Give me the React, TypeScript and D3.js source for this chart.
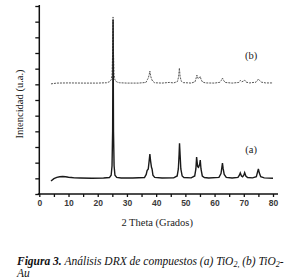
import React, { useRef, useEffect } from 'react';
import * as d3 from 'd3';

// XRD pattern (a) TiO2 — [2theta, intensity]
const thetaA = [4, 5, 6, 7, 8, 9, 10, 11, 12, 14, 18, 22, 24, 24.6, 24.9, 25.1, 25.25, 25.4, 25.6, 25.9, 26.5, 28, 32,
  36, 36.6, 36.9, 37.3, 37.6, 37.85, 38.1, 38.4, 38.6, 38.9, 39.5, 42, 46, 47.2, 47.6, 47.85, 48, 48.2, 48.45, 48.9, 49.5,
  52, 53.2, 53.6, 53.85, 54.2, 54.5, 54.9, 55.1, 55.35, 55.8, 56.5, 58, 61.5, 62.2, 62.5, 62.7, 62.95, 63.3, 64, 66,
  68, 68.5, 68.8, 69.2, 69.6, 70, 70.3, 70.7, 71.3, 73, 74.3, 74.7, 75, 75.3, 75.8, 77, 80];
const intensA = [8.3, 9.8, 10.6, 11, 11.2, 11, 10.7, 10.5, 10.3, 10.2, 10.1, 10.2, 10.5, 12, 18, 40, 111, 40, 18, 12, 10.6, 10.2, 10.2,
  10.5, 12.5, 15, 16, 21, 25.5, 21, 17, 16, 12, 10.6, 10.2, 10.3, 11.5, 16, 25, 32.3, 25, 16, 11.5, 10.5,
  10.3, 11.5, 16, 23.6, 17.5, 17, 19, 21.7, 16, 11.5, 10.5, 10.2, 10.6, 13, 17, 19.8, 16, 12.5, 10.6, 10.2,
  10.6, 12, 13.4, 11.5, 11, 12, 13.6, 11.5, 10.5, 10.3, 11, 14, 16, 13.5, 11, 10.3, 10.1];

// XRD pattern (b) TiO2-Au
const thetaB = [4, 6, 10, 15, 20, 23, 24, 24.6, 24.9, 25.1, 25.25, 25.4, 25.6, 25.9, 26.5, 27.5, 30, 34,
  36.5, 37, 37.3, 37.6, 37.85, 38.1, 38.4, 38.8, 39.5, 42, 44.5, 46, 47.3, 47.7, 47.95, 48.2, 48.6, 49.3,
  52, 53.3, 53.7, 53.95, 54.4, 54.9, 55.1, 55.4, 55.9, 57, 60, 61.8, 62.3, 62.7, 63.1, 63.6, 66,
  68.3, 68.8, 69.3, 70, 70.3, 70.8, 72, 74.2, 74.7, 75, 75.4, 76, 77.5, 80];
const intensB = [70.3, 70.8, 70.9, 70.8, 70.8, 71, 71.6, 72.8, 76, 90, 113, 90, 76, 72.8, 71.5, 71, 70.8, 70.8,
  71.2, 73, 74, 76, 78.5, 75.5, 73.5, 72, 71, 70.8, 71.2, 70.9, 71.8, 75, 80.4, 75, 72, 71.1,
  70.8, 71.6, 74, 75.9, 73.6, 74.5, 75, 73, 71.4, 70.9, 70.8, 71.3, 72.5, 74, 72.5, 71.2, 70.8,
  71.2, 72.5, 71.6, 72.2, 72.7, 71.4, 70.9, 71.4, 72.5, 73.4, 72.5, 71.4, 70.9, 70.9];

const xTicks = d3.range(0, 81, 5);
const yTicks = d3.range(0, 121, 10);

const W = 300;
const H = 279;

const Chart = () => {
  const svgRef = useRef<SVGSVGElement>(null);

  useEffect(() => {
    d3.select(svgRef.current).selectAll('*').remove();
    const svg = d3.select(svgRef.current);

    const x = d3.scaleLinear().domain([0, 80]).range([39.3, 273]);
    const y = d3.scaleLinear().domain([0, 120]).range([194, 6]);

    const line = d3
      .line<[number, number]>()
      .x((d) => x(d[0]))
      .y((d) => y(d[1]));

    const dataA = thetaA.map((t, i) => [t, intensA[i]] as [number, number]);
    const dataB = thetaB.map((t, i) => [t, intensB[i]] as [number, number]);

    svg
      .append('path')
      .attr('d', line(dataB))
      .attr('fill', 'none')
      .attr('stroke', '#555')
      .attr('stroke-width', 1)
      .attr('stroke-dasharray', '2,1');

    svg
      .append('path')
      .attr('d', line(dataA))
      .attr('fill', 'none')
      .attr('stroke', '#1a1a1a')
      .attr('stroke-width', 1.4);

    // y axis (no labels)
    const yAxis = d3
      .axisLeft(y)
      .tickValues(yTicks)
      .tickSize(4)
      .tickSizeOuter(0)
      .tickFormat(() => '');
    const gy = svg.append('g').attr('transform', `translate(${x(0)},0)`).call(yAxis);
    gy.select('.domain').remove();
    gy.selectAll('.tick line').attr('stroke', '#111').attr('stroke-width', 1.3);

    // x axis
    const xAxis = d3
      .axisBottom(x)
      .tickValues(xTicks)
      .tickSize(3)
      .tickSizeOuter(0)
      .tickPadding(3)
      .tickFormat((d) => ((d as number) % 10 === 0 ? String(d) : ''));
    const gx = svg.append('g').attr('transform', `translate(0,${y(0)})`).call(xAxis);
    gx.select('.domain').remove();
    gx.selectAll('.tick line').attr('stroke', '#111').attr('stroke-width', 1.3);
    gx.selectAll('.tick text')
      .attr('font-family', 'Liberation Sans, Arial, sans-serif')
      .attr('font-size', 8.5)
      .attr('font-weight', 'bold')
      .attr('fill', '#3a3a3a');

    // axis lines
    svg
      .append('line')
      .attr('x1', x(0))
      .attr('x2', x(0))
      .attr('y1', y(120) - 1)
      .attr('y2', y(0))
      .attr('stroke', '#111')
      .attr('stroke-width', 1.5);
    svg
      .append('line')
      .attr('x1', x(0) - 1.5)
      .attr('x2', x(80) + 5)
      .attr('y1', y(0))
      .attr('y2', y(0))
      .attr('stroke', '#111')
      .attr('stroke-width', 1.5);

    const serif = 'Liberation Serif, Times New Roman, serif';

    svg
      .append('text')
      .attr('x', (x(0) + x(80)) / 2 + 1)
      .attr('y', 226)
      .attr('text-anchor', 'middle')
      .attr('font-family', serif)
      .attr('font-size', 10.5)
      .attr('fill', '#222')
      .text('2 Theta (Grados)');

    svg
      .append('text')
      .attr('transform', `translate(23,104) rotate(-90)`)
      .attr('text-anchor', 'middle')
      .attr('font-family', serif)
      .attr('font-size', 10.5)
      .attr('fill', '#222')
      .text('Intencidad (u.a.)');

    svg
      .append('text')
      .attr('x', x(72.5))
      .attr('y', y(88) + 3)
      .attr('text-anchor', 'middle')
      .attr('font-family', serif)
      .attr('font-size', 10.5)
      .attr('fill', '#222')
      .text('(b)');

    svg
      .append('text')
      .attr('x', x(72.5))
      .attr('y', y(28) + 3)
      .attr('text-anchor', 'middle')
      .attr('font-family', serif)
      .attr('font-size', 10.5)
      .attr('fill', '#222')
      .text('(a)');

    // caption
    const cap = svg
      .append('text')
      .attr('x', 17)
      .attr('y', 265)
      .attr('font-family', serif)
      .attr('font-size', 11.5)
      .attr('font-style', 'italic')
      .attr('fill', '#111');
    cap.append('tspan').attr('font-weight', 'bold').text('Figura 3.');
    cap.append('tspan').text(' Análisis DRX de compuestos (a) TiO');
    cap.append('tspan').attr('dy', 2).attr('font-size', 8).text('2,');
    cap.append('tspan').attr('dy', -2).text(' (b) TiO');
    cap.append('tspan').attr('dy', 2).attr('font-size', 8).text('2');
    cap.append('tspan').attr('dy', -2).text('-');

    svg
      .append('text')
      .attr('x', 17)
      .attr('y', 277)
      .attr('font-family', serif)
      .attr('font-size', 11.5)
      .attr('font-style', 'italic')
      .attr('fill', '#111')
      .text('Au');
  }, []);

  return (
    <svg
      ref={svgRef}
      width={W}
      height={H}
      style={{ position: 'absolute', left: 0, top: 0, background: '#fff' }}
    ></svg>
  );
};

export default function App() {
  return <Chart />;
}
